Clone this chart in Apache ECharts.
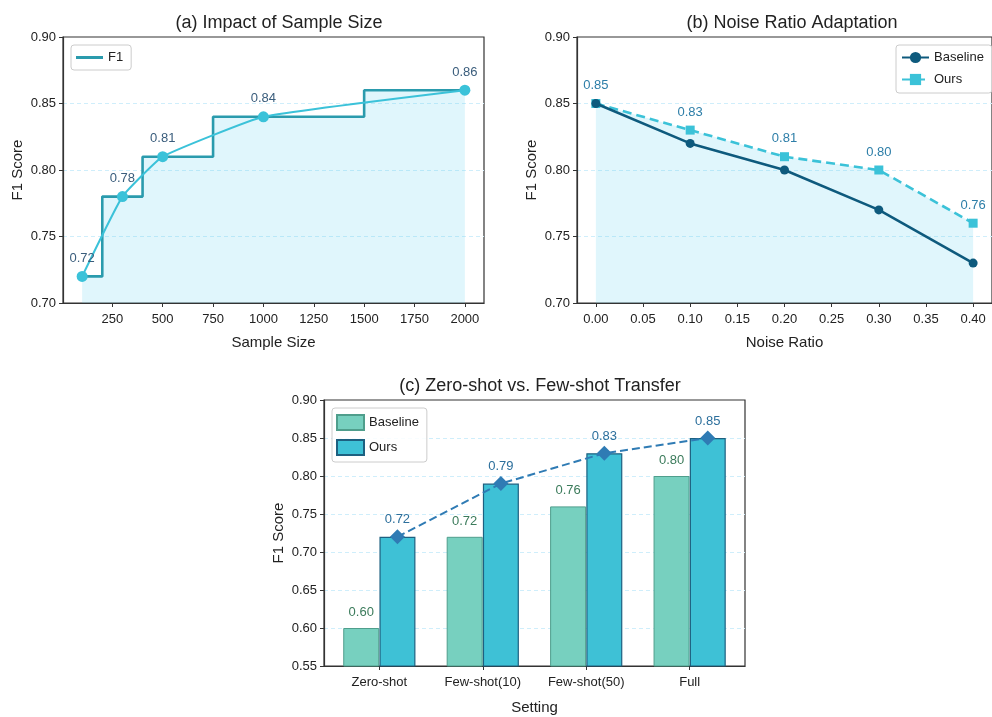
<!DOCTYPE html>
<html>
<head>
<meta charset="utf-8">
<script src="https://cdn.jsdelivr.net/npm/echarts@6/dist/echarts.min.js"></script>
<style>
html,body{margin:0;padding:0;background:#fff;}
#main{width:992px;height:717px;}
</style>
</head>
<body>
<div id="main"></div>
<script>
// ---- Panel (a) data ----
const sampleSizes = [100, 300, 500, 1000, 2000];
const sampleF1 = [0.72, 0.78, 0.81, 0.84, 0.86];
const sampleTicks = [250, 500, 750, 1000, 1250, 1500, 1750, 2000];

// ---- Panel (b) data ----
const noiseRatios = [0.0, 0.1, 0.2, 0.3, 0.4];
const noiseBaseline = [0.85, 0.82, 0.80, 0.77, 0.73];
const noiseOurs = [0.85, 0.83, 0.81, 0.80, 0.76];
const noiseTicks = [0.00, 0.05, 0.10, 0.15, 0.20, 0.25, 0.30, 0.35, 0.40];

// ---- Panel (c) data ----
const settings = ['Zero-shot', 'Few-shot(10)', 'Few-shot(50)', 'Full'];
const transferBaseline = [0.60, 0.72, 0.76, 0.80];
const transferOurs = [0.72, 0.79, 0.83, 0.85];
const settingTicks = [0, 1, 2, 3];

const FONT = 'Liberation Sans, Arial, sans-serif';
const TXT = '#222';
const GRIDLINE = '#cfeefb';
const FILL = 'rgba(95,208,240,0.28)';

function yAxisCfg(gridIndex, min, max, interval) {
  return {
    type: 'value', gridIndex, min, max, interval,
    name: 'F1 Score', nameLocation: 'middle', nameGap: 38,
    nameTextStyle: {fontSize: 15, color: TXT, fontFamily: FONT},
    axisLine: {show: true, onZero: false, lineStyle: {color: '#333', width: 1.2}},
    axisTick: {show: true, length: 4, lineStyle: {color: '#333'}},
    axisLabel: {fontSize: 13, color: TXT, fontFamily: FONT, margin: 7,
      formatter: v => v.toFixed(2)},
    splitLine: {show: true, showMinLine: false, showMaxLine: false,
      lineStyle: {color: GRIDLINE, type: [4, 3], width: 1}}
  };
}
function xAxisCfg(gridIndex, min, max, name, ticks, fmt, nameGap) {
  return {
    type: 'value', gridIndex, min, max,
    name, nameLocation: 'middle', nameGap,
    nameTextStyle: {fontSize: 15, color: TXT, fontFamily: FONT},
    axisLine: {show: true, onZero: false, lineStyle: {color: '#333', width: 1.2}},
    axisTick: {show: true, length: 4, lineStyle: {color: '#333'}, customValues: ticks},
    axisLabel: {fontSize: 13, color: TXT, fontFamily: FONT, margin: 10,
      customValues: ticks, formatter: fmt},
    splitLine: {show: false}
  };
}
const legendBase = {
  orient: 'vertical', borderColor: '#cccccc', borderWidth: 1, borderRadius: 3,
  backgroundColor: 'rgba(255,255,255,0.85)', itemWidth: 27, itemHeight: 14,
  textStyle: {fontSize: 13, color: TXT, fontFamily: FONT}
};
const titleStyle = {fontSize: 18, fontWeight: 'normal', color: TXT, fontFamily: FONT};

const option = {
  animation: false,
  backgroundColor: '#fff',
  title: [
    {text: '(a) Impact of Sample Size', left: 274, top: 9, textAlign: 'center', textStyle: titleStyle},
    {text: '(b) Noise Ratio Adaptation', left: 787, top: 9, textAlign: 'center', textStyle: titleStyle},
    {text: '(c) Zero-shot vs. Few-shot Transfer', left: 535, top: 372, textAlign: 'center', textStyle: titleStyle}
  ],
  grid: [
    {left: 63, top: 37, width: 421, height: 266, show: true, borderColor: '#333', borderWidth: 1.2},
    {left: 577, top: 37, width: 420, height: 266, show: true, borderColor: '#333', borderWidth: 1.2},
    {left: 324, top: 400, width: 421, height: 266, show: true, borderColor: '#333', borderWidth: 1.2}
  ],
  xAxis: [
    xAxisCfg(0, 5, 2095, 'Sample Size', sampleTicks, v => String(v), 32),
    xAxisCfg(1, -0.02, 0.42, 'Noise Ratio', noiseTicks, v => v.toFixed(2), 32),
    xAxisCfg(2, -0.535, 3.535, 'Setting', settingTicks, v => settings[Math.round(v)], 34)
  ],
  yAxis: [
    yAxisCfg(0, 0.70, 0.90, 0.05),
    yAxisCfg(1, 0.70, 0.90, 0.05),
    yAxisCfg(2, 0.55, 0.90, 0.05)
  ],
  legend: [
    Object.assign({}, legendBase, {left: 71, top: 45, padding: [6, 8, 6, 5],
      itemHeight: 3, icon: 'rect', itemStyle: {color: '#2a9bad'},
      data: ['F1']}),
    Object.assign({}, legendBase, {left: 896, top: 45, padding: [6, 8, 7, 5], itemGap: 9,
      data: ['Baseline', 'Ours']}),
    Object.assign({}, legendBase, {left: 332, top: 408, padding: [6, 8, 6, 4], itemGap: 8,
      itemHeight: 15, icon: 'rect',
      data: ['Baseline (c)', 'Ours (c)'], formatter: n => n.replace(' (c)', '')})
  ],
  series: [
    // (a)
    {
      name: 'F1', type: 'line', xAxisIndex: 0, yAxisIndex: 0, step: 'middle',
      data: sampleSizes.map((s, i) => [s, sampleF1[i]]),
      symbol: 'none', color: '#2a9bad',
      lineStyle: {color: '#2a9bad', width: 2.6},
      areaStyle: {color: FILL, origin: 'start'}, z: 2
    },
    {
      name: 'F1 trend', type: 'line', xAxisIndex: 0, yAxisIndex: 0, smooth: 0.12,
      data: sampleSizes.map((s, i) => [s, sampleF1[i]]),
      symbol: 'circle', symbolSize: 11, color: '#3bc2d9',
      lineStyle: {color: '#3bc2d9', width: 2},
      label: {show: true, position: 'top', distance: 6, fontSize: 13, color: '#3a5d7c',
        fontFamily: FONT, formatter: p => p.value[1].toFixed(2)}, z: 3
    },
    // (b)
    {
      name: 'Ours', type: 'line', xAxisIndex: 1, yAxisIndex: 1,
      data: noiseRatios.map((x, i) => [x, noiseOurs[i]]),
      symbol: 'rect', symbolSize: 9, color: '#3bc2d8',
      lineStyle: {color: '#3bc2d8', width: 2.6, type: [9, 5]},
      areaStyle: {color: FILL, origin: 'start'},
      label: {show: true, position: 'top', distance: 7, fontSize: 13, color: '#2d7ea8',
        fontFamily: FONT, formatter: p => p.value[1].toFixed(2)}, z: 2
    },
    {
      name: 'Baseline', type: 'line', xAxisIndex: 1, yAxisIndex: 1,
      data: noiseRatios.map((x, i) => [x, noiseBaseline[i]]),
      symbol: 'circle', symbolSize: 9, color: '#0e5a7d',
      lineStyle: {color: '#0e5a7d', width: 2.6}, z: 3
    },
    // (c)
    {
      name: 'Baseline (c)', type: 'bar', xAxisIndex: 2, yAxisIndex: 2,
      data: settings.map((s, i) => [i - 0.175, transferBaseline[i]]),
      barWidth: 36, barGap: '-100%',
      itemStyle: {color: '#77d0bf', borderColor: '#4f9e8c', borderWidth: 1},
      label: {show: true, position: 'top', distance: 9, fontSize: 13, color: '#3b7b5b',
        fontFamily: FONT, formatter: p => p.value[1].toFixed(2)}
    },
    {
      name: 'Ours (c)', type: 'bar', xAxisIndex: 2, yAxisIndex: 2,
      data: settings.map((s, i) => [i + 0.175, transferOurs[i]]),
      barWidth: 36, barGap: '-100%',
      itemStyle: {color: '#3ec1d6', borderColor: '#1d6080', borderWidth: 1.2}
    },
    {
      name: 'Ours trend', type: 'line', xAxisIndex: 2, yAxisIndex: 2,
      data: settings.map((s, i) => [i + 0.175, transferOurs[i]]),
      symbol: 'diamond', symbolSize: 15, color: '#2f7bb4',
      lineStyle: {color: '#2f7bb4', width: 2, type: [8, 4]},
      label: {show: true, position: 'top', distance: 3, fontSize: 13, color: '#2c6f9c',
        fontFamily: FONT, formatter: p => p.value[1].toFixed(2)}, z: 5
    }
  ]
};

const chart = echarts.init(document.getElementById('main'), null, {renderer: 'canvas'});
chart.setOption(option);
</script>
</body>
</html>
